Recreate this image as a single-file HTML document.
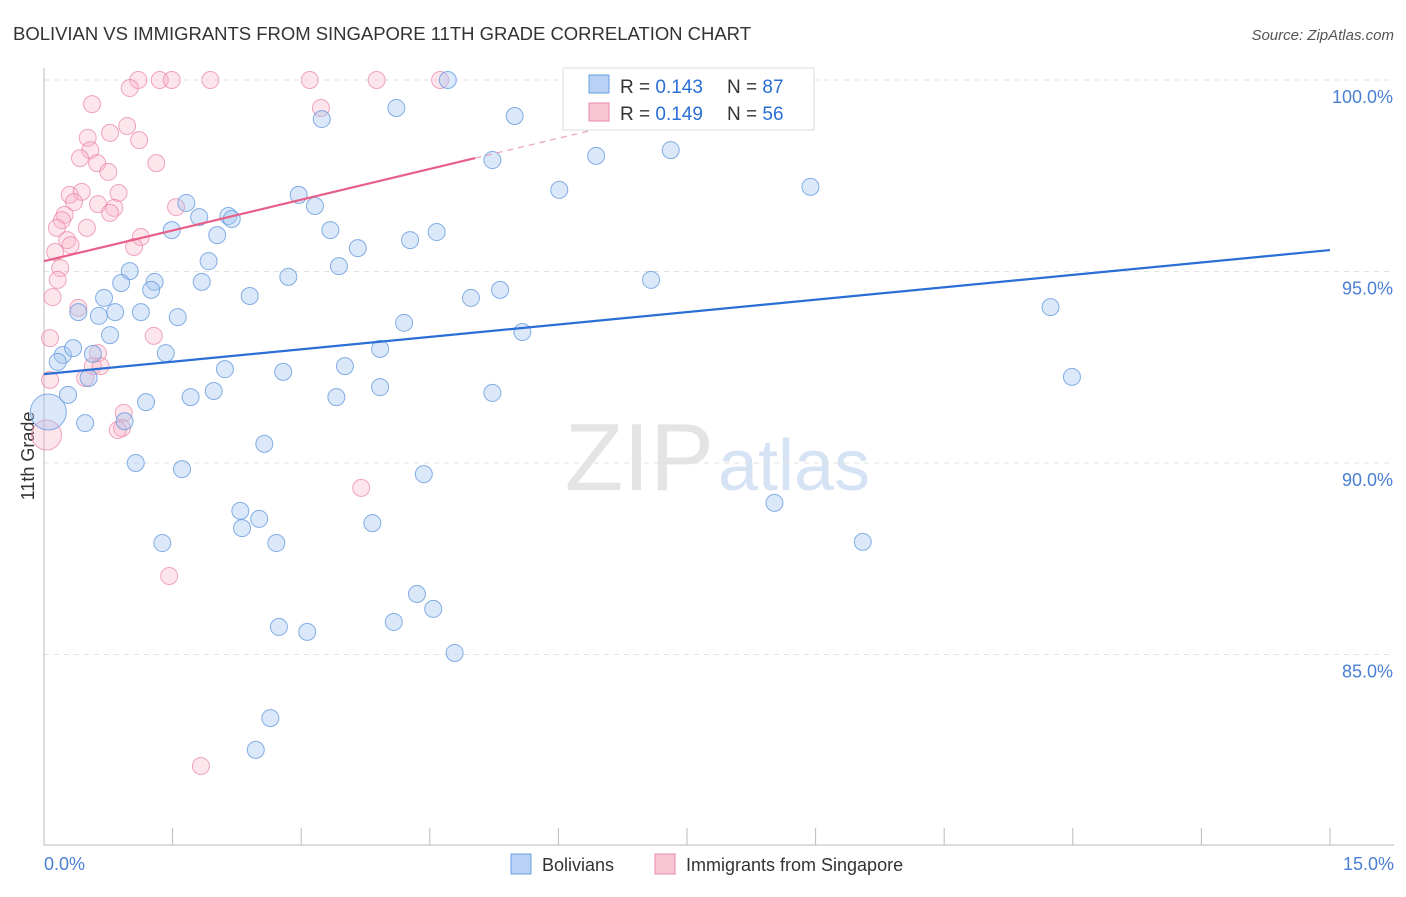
<!DOCTYPE html>
<html><head><meta charset="utf-8"><style>
body{margin:0;background:#fff;font-family:"Liberation Sans",sans-serif}
svg text{font-family:"Liberation Sans",sans-serif}
</style></head><body>
<svg id="chart" width="1406" height="892" viewBox="0 0 1406 892" xmlns="http://www.w3.org/2000/svg">
<text x="13" y="40" font-size="18.5" fill="#333" textLength="738">BOLIVIAN VS IMMIGRANTS FROM SINGAPORE 11TH GRADE CORRELATION CHART</text>
<text x="1394" y="40" font-size="15" fill="#555" text-anchor="end" font-style="italic">Source: ZipAtlas.com</text>
<text x="714" y="490" font-size="96" fill="#e4e4e4" text-anchor="end" font-family="Liberation Serif">ZIP</text>
<text x="718" y="490" font-size="72" fill="#d6e3f5">atlas</text>
<g id="grid"></g>
<line x1="44" y1="68" x2="44" y2="845" stroke="#bbb"/>
<line x1="44" y1="845" x2="1394" y2="845" stroke="#bbb"/>
<text transform="translate(34,456) rotate(-90)" font-size="18" fill="#333" text-anchor="middle">11th Grade</text>
<text x="44" y="870" font-size="18" fill="#4a7fd4">0.0%</text>
<text x="1394" y="870" font-size="18" fill="#4a7fd4" text-anchor="end">15.0%</text>
<g id="pts"></g>
<g id="lines"></g>
<g>
<rect x="563" y="68" width="251" height="62" fill="#fff" stroke="#ddd"/>
<rect x="589" y="75" width="20" height="18" fill="#b9d1f4" stroke="#6a9de0"/>
<rect x="589" y="103" width="20" height="18" fill="#f9c5d4" stroke="#e88aa8"/>
<text x="620" y="93" font-size="19" fill="#333">R = <tspan fill="#2a6fd6">0.143</tspan></text>
<text x="727" y="93" font-size="19" fill="#333">N = <tspan fill="#2a6fd6">87</tspan></text>
<text x="620" y="120" font-size="19" fill="#333">R = <tspan fill="#2a6fd6">0.149</tspan></text>
<text x="727" y="120" font-size="19" fill="#333">N = <tspan fill="#2a6fd6">56</tspan></text>
</g>
<g><rect x="511" y="854" width="20" height="20" fill="#b9d1f4" stroke="#6a9de0"/><text x="542" y="871" font-size="18" fill="#333">Bolivians</text></g>
<g><rect x="655" y="854" width="20" height="20" fill="#f9c5d4" stroke="#e88aa8"/><text x="686" y="871" font-size="18" fill="#333">Immigrants from Singapore</text></g>
</svg>
<script>
const yTicks=[100,95,90,85];
const yTickLabels=["100.0%","95.0%","90.0%","85.0%"];
const xTicks=[0,1.5,3,4.5,6,7.5,9,10.5,12,13.5,15];
const blueX=[6.37,4.71,8.10,4.11,3.24,5.49,5.23,6.44,7.31,6.01,8.94,2.97,3.16,1.66,1.81,2.15,2.19,1.49,2.02,3.34,4.27,4.58,3.66,1.92,1.00,3.44,2.85,1.29,0.90,1.25,1.84,0.70,2.40,4.98,5.32,7.08,11.74,0.40,0.64,0.83,1.13,1.56,4.20,5.58,0.77,1.42,0.57,0.22,0.34,0.16,3.92,3.51,2.11,2.79,0.52,11.99,0.28,1.19,1.71,1.98,3.41,3.92,5.23,0.05,0.48,0.94,2.57,1.07,1.61,4.43,8.52,2.29,2.51,2.31,3.83,1.38,2.71,9.55,4.35,4.54,2.74,3.07,4.08,4.79,2.64,2.47];
const blueY=[100,100,100,99.27,98.98,99.06,97.91,98.02,98.17,97.13,97.21,97.00,96.71,96.79,96.42,96.45,96.37,96.08,95.95,96.08,95.82,96.03,95.61,95.27,95.01,95.14,94.86,94.73,94.70,94.52,94.73,94.31,94.36,94.31,94.52,94.78,94.07,93.94,93.84,93.94,93.94,93.81,93.66,93.42,93.34,92.87,92.85,92.82,93.00,92.64,92.98,92.53,92.45,92.38,92.22,92.25,91.78,91.59,91.72,91.88,91.72,91.98,91.83,91.33,91.04,91.09,90.50,90.00,89.84,89.71,88.96,88.75,88.54,88.30,88.43,87.91,87.91,87.94,86.58,86.19,85.72,85.59,85.85,85.04,83.34,82.51];
const pinkX=[1.10,1.35,1.49,1.94,3.10,3.88,4.62,1.00,0.56,3.23,0.97,0.51,0.77,1.11,0.54,0.42,0.62,1.31,0.75,0.30,0.44,0.87,0.35,0.63,0.82,1.54,0.77,0.24,0.21,0.50,0.15,0.27,1.13,1.05,0.31,0.13,0.19,0.16,0.10,0.40,0.07,1.28,0.63,0.57,0.66,0.48,0.07,0.93,0.91,0.86,0.03,3.70,1.46,1.83];
const pinkY=[100,100,100,100,100,100,100,99.79,99.37,99.27,98.80,98.49,98.62,98.43,98.17,97.96,97.83,97.83,97.60,97.00,97.08,97.05,96.81,96.76,96.66,96.68,96.53,96.48,96.34,96.14,96.14,95.82,95.90,95.64,95.69,95.51,95.09,94.78,94.33,94.05,93.26,93.32,92.87,92.53,92.53,92.22,92.17,91.31,90.91,90.86,90.73,89.35,87.05,82.09];
const blueTrend=[92.32,95.56]; // y at x=0 and x=15
const pinkTrend=[95.27,0.535]; // intercept, slope per %
const X=v=>44+v/15*1286;
const Y=v=>80+(100-v)*38.3;
const NS="http://www.w3.org/2000/svg";
function mk(tag,attrs,parent){const e=document.createElementNS(NS,tag);for(const k in attrs)e.setAttribute(k,attrs[k]);parent.appendChild(e);return e;}
const grid=document.getElementById('grid');
yTicks.forEach((t,i)=>{
 const l=mk('line',{x1:44,x2:1394,y1:Y(t),y2:Y(t),stroke:'#e2e2e2','stroke-dasharray':'5,5'},grid);
 
 
 const tx=mk('text',{x:1393,y:Y(t)+23,'font-size':18,fill:'#4a7fd4','text-anchor':'end'},grid);
 tx.textContent=yTickLabels[i];
 
 
});
xTicks.forEach(t=>{
 const l=mk('line',{x1:X(t),x2:X(t),y1:828,y2:845,stroke:'#bbb'},grid);
 
 
});
const pts=document.getElementById('pts');
pinkX.forEach((x,i)=>{
 const r=(x<0.05&&pinkY[i]<91)?15:8.5;
 const c=mk('circle',{cx:X(x),cy:Y(pinkY[i]),r:r,fill:'rgba(248,180,200,0.35)',stroke:'rgba(232,130,165,0.7)','stroke-width':1},pts);
 
 
});
blueX.forEach((x,i)=>{
 const r=(x<0.1&&blueY[i]<92)?18:8.5;
 const c=mk('circle',{cx:X(x),cy:Y(blueY[i]),r:r,fill:'rgba(165,198,240,0.4)',stroke:'rgba(95,150,220,0.75)','stroke-width':1},pts);
 
 
});
const lines=document.getElementById('lines');
const bl=mk('line',{x1:X(0),y1:Y(blueTrend[0]),x2:X(15),y2:Y(blueTrend[1]),stroke:'#2a6fd6','stroke-width':2.2},lines);


const pl=mk('line',{x1:X(0),y1:Y(pinkTrend[0]),x2:X(5.03),y2:Y(pinkTrend[0]+pinkTrend[1]*5.03),stroke:'#e8608a','stroke-width':2.2},lines);


const pd=mk('line',{x1:X(5.03),y1:Y(pinkTrend[0]+pinkTrend[1]*5.03),x2:X(6.4),y2:Y(pinkTrend[0]+pinkTrend[1]*6.4),stroke:'#e8a0b8','stroke-width':1.2,'stroke-dasharray':'6,5'},lines);


</script>
</body></html>
